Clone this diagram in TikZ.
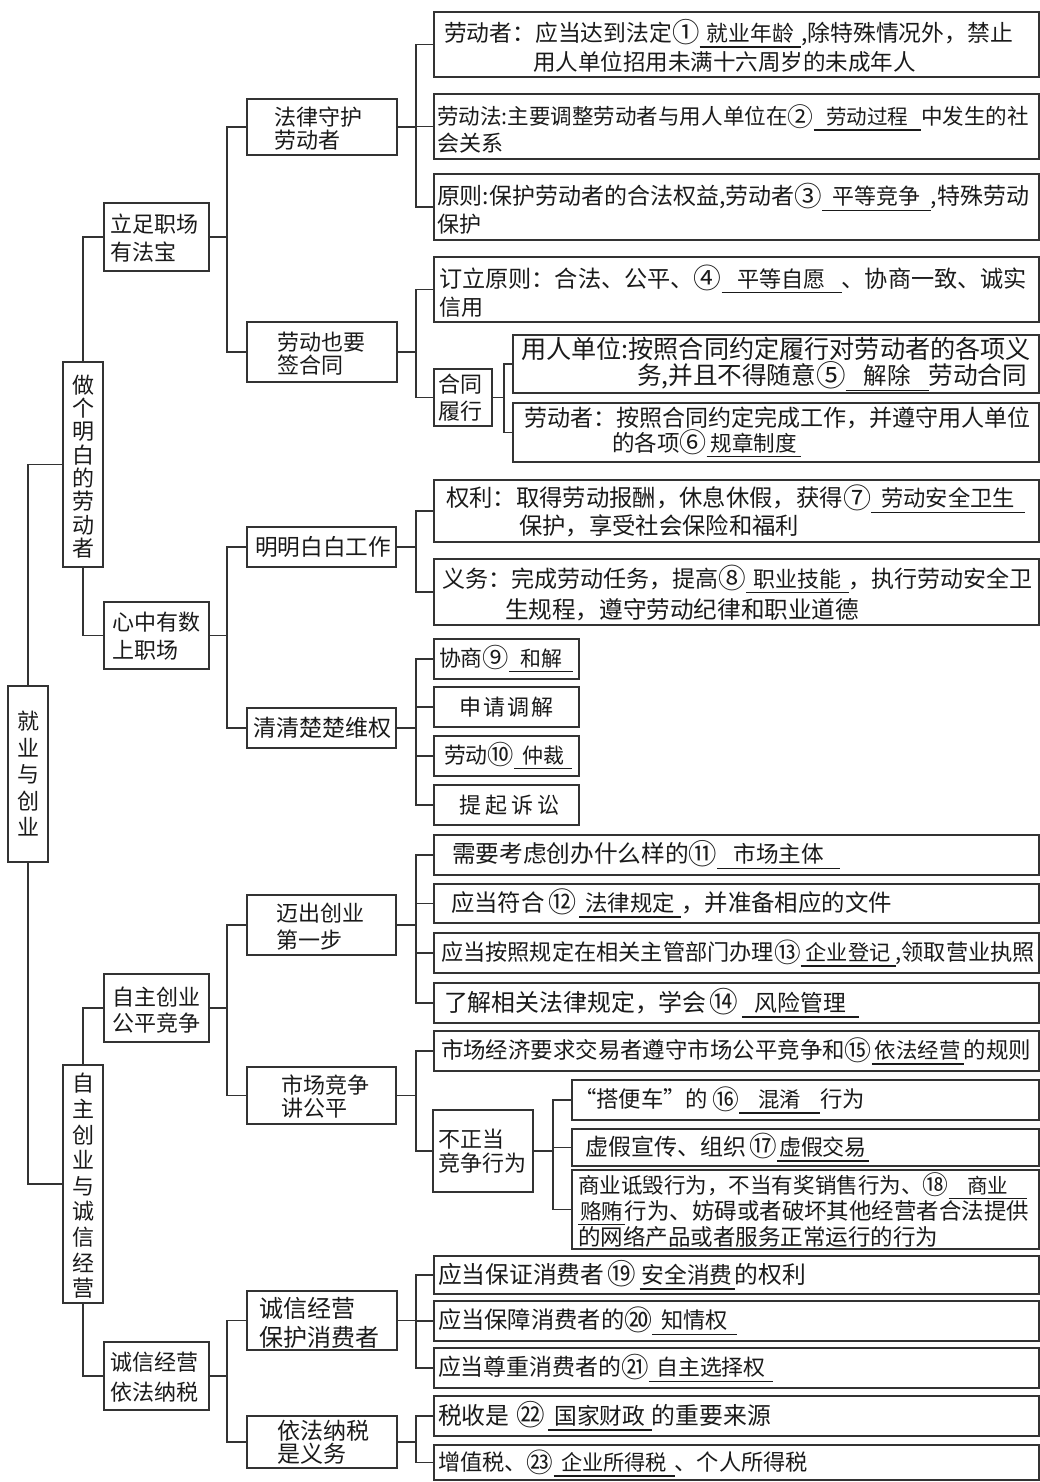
\documentclass[tikz,border=0pt]{standalone}
\usepackage{fontspec}
\usepackage{graphicx}
\setmainfont{Noto Sans CJK SC}
\usetikzlibrary{calc}
\definecolor{ink}{HTML}{1A1A1A}
\definecolor{lnc}{HTML}{333333}
\newcommand\fsz[2]{\fontsize{#1}{#2}\selectfont}
\newcommand\fitw[2]{\resizebox{#1pt}{!}{#2}}
\newcommand\answ[2]{\makebox[#1pt][c]{\fsz{21}{24}#2}\llap{\rule[-6pt]{#1pt}{1.3pt}}}
\newcommand\cn[1]{\raisebox{-1.5pt}{\scalebox{1.2}{#1}}}
\newcommand\mybox[5]{\pgfmathsetmacro\bxw{#4-#2}\pgfmathsetmacro\bxh{#5-#3}\node[bx, minimum width=\bxw pt, minimum height=\bxh pt, anchor=north west] (#1) at (#2,#3) {};}
\tikzset{
  bx/.style={draw=lnc, line width=1.3pt, inner sep=0pt, outer sep=0pt},
  tx/.style={inner sep=0pt, outer sep=0pt, text=ink, align=left, anchor=west, font=\fsz{22}{27}},
  vt/.style={inner sep=0pt, outer sep=0pt, text=ink, align=center, anchor=center},
  ln/.style={draw=lnc, line width=1.3pt},
}
\begin{document}
\begin{tikzpicture}[x=1pt,y=-1pt]
\useasboundingbox (0,0) rectangle (1040,1482);
\coordinate (B3) at (227,0);
\coordinate (B4) at (416,0);
\coordinate (B5) at (504,0);
\coordinate (B6) at (553,0);
% level 0 and 1
\mybox{root}{8}{686}{48}{862}
\node[vt, font=\fsz{22}{26.5}] (roott) at (root.center) {就\\业\\与\\创\\业};
\mybox{zg}{63}{362}{103}{567}
\node[vt, font=\fsz{22}{23.3}] (zgt) at ([yshift=-2pt]zg.center) {做\\个\\明\\白\\的\\劳\\动\\者};
\mybox{zc}{63}{1065}{103}{1303}
\node[vt, font=\fsz{22}{25.6}] (zct) at ([yshift=-2pt]zc.center) {自\\主\\创\\业\\与\\诚\\信\\经\\营};
% level 2
\mybox{lz}{104}{203}{209}{271}
\node[tx, font=\fsz{22}{28}] (lzt) at (110,238) {立足职场\\有法宝};
\mybox{xz}{104}{602}{209}{669}
\node[tx, font=\fsz{22}{28}] (xzt) at (112,636) {心中有数\\上职场};
\mybox{zz}{104}{974}{209}{1042}
\node[tx, font=\fsz{22}{26}] (zzt) at (112,1010) {自主创业\\公平竞争};
\mybox{cx}{104}{1342}{209}{1410}
\node[tx, font=\fsz{22}{30}] (cxt) at (110,1377) {诚信经营\\依法纳税};
% level 3
\mybox{fl}{247}{99}{397}{155}
\node[tx, font=\fsz{22}{23.5}] (flt) at (274,128.5) {法律守护\\劳动者};
\mybox{ld}{247}{322}{397}{382}
\node[tx, font=\fsz{22}{23.5}] (ldt) at (277,353.5) {劳动也要\\签合同};
\mybox{mm}{247}{527}{396}{567}
\node[tx] (mmt) at (255,547) {\fitw{136}{明明白白工作}};
\mybox{qq}{247}{708}{396}{748}
\node[tx] (qqt) at (253,728) {\fitw{138}{清清楚楚维权}};
\mybox{mc}{247}{895}{396}{955}
\node[tx, font=\fsz{22}{27}] (mct) at (276,926.5) {迈出创业\\第一步};
\mybox{sc}{247}{1067}{396}{1124}
\node[tx, font=\fsz{22}{23.5}] (sct) at (281,1096.5) {市场竞争\\讲公平};
\mybox{cb}{247}{1291}{397}{1350}
\node[tx, font=\fsz{24}{29}] (cbt) at (259,1322.5) {诚信经营\\保护消费者};
\mybox{yf}{247}{1416}{397}{1468}
\node[tx, font=\fsz{23}{23.5}] (yft) at (277,1442.5) {依法纳税\\是义务};
% level 4 : 法律守护劳动者
\mybox{f1}{434}{12}{1039}{77}
\node[tx, font=\fsz{22}{29}] (f1t) at (444,46) {\fitw{569}{劳动者：应当达到法定\cn{①}\answ{98}{就业年龄},除特殊情况外，禁止}\\\hspace*{89pt}\fitw{383}{用人单位招用未满十六周岁的未成年人}};
\mybox{f2}{434}{94}{1039}{159}
\node[tx, font=\fsz{22}{27}] (f2t) at (437,129) {\fitw{592}{劳动法:主要调整劳动者与用人单位在\cn{②}\answ{110}{劳动过程}中发生的社}\\会关系};
\mybox{f3}{434}{174}{1039}{240}
\node[tx, font=\fsz{22}{28}] (f3t) at (437,209) {\fitw{592}{原则:保护劳动者的合法权益,劳动者\cn{③}\answ{104}{平等竞争},特殊劳动}\\保护};
% 劳动也要签合同
\mybox{d1}{434}{257}{1039}{322}
\node[tx, font=\fsz{22}{28}] (d1t) at (439,291) {\fitw{588}{订立原则：合法、公平、\cn{④}\answ{114}{平等自愿}、协商一致、诚实}\\信用};
\mybox{hl}{434}{369}{492}{426}
\node[tx, font=\fsz{22}{27}] (hlt) at (438,398) {合同\\履行};
\mybox{h1}{513}{335}{1039}{393}
\node[tx, font=\fsz{22}{25}] (h1t) at (521,364) {\fitw{510}{用人单位:按照合同约定履行对劳动者的各项义}\\\hspace*{116pt}\fitw{390}{务,并且不得随意\cn{⑤}\answ{74}{解除}劳动合同}};
\mybox{h2}{513}{403}{1039}{462}
\node[tx, font=\fsz{22}{25}] (h2t) at (524,432) {\fitw{507}{劳动者：按照合同约定完成工作，并遵守用人单位}\\\hspace*{88pt}\fitw{189}{的各项\cn{⑥}\answ{92}{规章制度}}};
% 明明白白工作
\mybox{m1}{434}{480}{1039}{542}
\node[tx, font=\fsz{22}{28}] (m1t) at (446,511) {\fitw{579}{权利：取得劳动报酬，休息休假，获得\cn{⑦}\answ{145}{劳动安全卫生}}\\\hspace*{73pt}\fitw{280}{保护，享受社会保险和福利}};
\mybox{m2}{434}{559}{1039}{625}
\node[tx, font=\fsz{22}{31}] (m2t) at (442,593) {\fitw{591}{义务：完成劳动任务，提高\cn{⑧}\answ{98}{职业技能}，执行劳动安全卫}\\\hspace*{63pt}\fitw{354}{生规程，遵守劳动纪律和职业道德}};
% 清清楚楚维权
\mybox{w1}{434}{639}{579}{679}
\node[tx] (w1t) at (439,659) {\fitw{134}{协商\cn{⑨}\answ{64}{和解}}};
\mybox{w2}{434}{687}{579}{727}
\node[vt, font=\fsz{22}{27}] (w2t) at (w2.center) {申\hspace{2pt}请\hspace{2pt}调\hspace{2pt}解};
\mybox{w3}{434}{736}{579}{776}
\node[tx] (w3t) at (444,756) {\fitw{128}{劳动\cn{⑩}\answ{58}{仲裁}}};
\mybox{w4}{434}{785}{579}{825}
\node[vt, font=\fsz{22}{27}] (w4t) at ([xshift=3pt]w4.center) {提\hspace{4pt}起\hspace{4pt}诉\hspace{4pt}讼};
% 迈出创业第一步
\mybox{c1}{434}{835}{1039}{875}
\node[tx] (c1t) at (452,855) {\fitw{388}{需要考虑创办什么样的\cn{⑪}\answ{114}{市场主体}}};
\mybox{c2}{434}{884}{1039}{923}
\node[tx] (c2t) at (451,903.5) {\fitw{441}{应当符合\hspace{4pt}\cn{⑫}\hspace{2pt}\answ{96}{法律规定}，并准备相应的文件}};
\mybox{c3}{434}{933}{1039}{973}
\node[tx] (c3t) at (441,953) {\fitw{594}{应当按照规定在相关主管部门办理\cn{⑬}\answ{94}{企业登记},领取营业执照}};
\mybox{c4}{434}{983}{1039}{1023}
\node[tx] (c4t) at (444,1003) {\fitw{415}{了解相关法律规定，学会\hspace{3pt}\cn{⑭}\hspace{3pt}\answ{108}{风险管理}}};
% 市场竞争讲公平
\mybox{s1}{434}{1031}{1039}{1071}
\node[tx] (s1t) at (441,1051) {\fitw{590}{市场经济要求交易者遵守市场公平竞争和\cn{⑮}\answ{90}{依法经营}的规则}};
\mybox{bz}{433}{1110}{533}{1192}
\node[tx, font=\fsz{22}{23.5}] (bzt) at (438,1151) {不正当\\竞争行为};
\mybox{u1}{572}{1080}{1039}{1120}
\node[tx] (u1t) at (574,1100) {\fitw{291}{“搭便车”的\hspace{4pt}\cn{⑯}\answ{80}{混淆}行为}};
\mybox{u2}{572}{1129}{1039}{1166}
\node[tx] (u2t) at (585,1147.5) {\fitw{284}{虚假宣传、组织\hspace{3pt}\cn{⑰}\answ{88}{虚假交易}}};
\mybox{u3}{572}{1170}{1039}{1249}
\node[tx, font=\fsz{22}{24}] (u3t) at (578,1210) {\fitw{449}{商业诋毁行为，不当有奖销售行为、\cn{⑱}\answ{80}{商业}}\\\fitw{451}{\answ{46}{赂贿}行为、妨碍或者破坏其他经营者合法提供}\\\fitw{360}{的网络产品或者服务正常运行的行为}};
% 诚信经营保护消费者
\mybox{x1}{434}{1256}{1039}{1294}
\node[tx] (x1t) at (438,1275) {\fitw{368}{应当保证消费者\hspace{3pt}\cn{⑲}\hspace{3pt}\answ{88}{安全消费}的权利}};
\mybox{x2}{434}{1301}{1039}{1341}
\node[tx] (x2t) at (438,1321) {\fitw{299}{应当保障消费者的\cn{⑳}\answ{80}{知情权}}};
\mybox{x3}{434}{1348}{1039}{1388}
\node[tx] (x3t) at (438,1368) {\fitw{335}{应当尊重消费者的\cn{㉑}\answ{119}{自主选择权}}};
% 依法纳税是义务
\mybox{n1}{434}{1396}{1039}{1436}
\node[tx] (n1t) at (438,1416) {\fitw{333}{税收是\hspace{6pt}\cn{㉒}\hspace{3pt}\answ{96}{国家财政}的重要来源}};
\mybox{n2}{434}{1445}{1039}{1480}
\node[tx] (n2t) at (438,1463) {\fitw{370}{增值税、\cn{㉓}\answ{120}{企业所得税}、个人所得税}};
% connectors
\draw[ln] (root.north) |- (zg.west);
\draw[ln] (root.south) |- (zc.west);
\draw[ln] (zg.north) |- (lz.west);
\draw[ln] (zg.south) |- (xz.west);
\draw[ln] (zc.north) |- (zz.west);
\draw[ln] (zc.south) |- (cx.west);
\foreach \pa/\ch in {lz/fl, lz/ld, xz/mm, xz/qq, zz/mc, zz/sc, cx/cb, cx/yf}
  \draw[ln] (\pa.east) -- (\pa.east -| B3) |- (\ch.west);
\foreach \pa/\ch in {fl/f1, fl/f2, fl/f3, ld/d1, ld/hl, mm/m1, mm/m2, qq/w1, qq/w2, qq/w3, qq/w4, mc/c1, mc/c2, mc/c3, mc/c4, sc/s1, sc/bz, cb/x1, cb/x2, cb/x3, yf/n1, yf/n2}
  \draw[ln] (\pa.east) -- (\pa.east -| B4) |- (\ch.west);
\foreach \ch in {h1, h2}
  \draw[ln] (hl.east) -- (hl.east -| B5) |- (\ch.west);
\foreach \ch in {u1, u2, u3}
  \draw[ln] (bz.east) -- (bz.east -| B6) |- (\ch.west);
\end{tikzpicture}
\end{document}
